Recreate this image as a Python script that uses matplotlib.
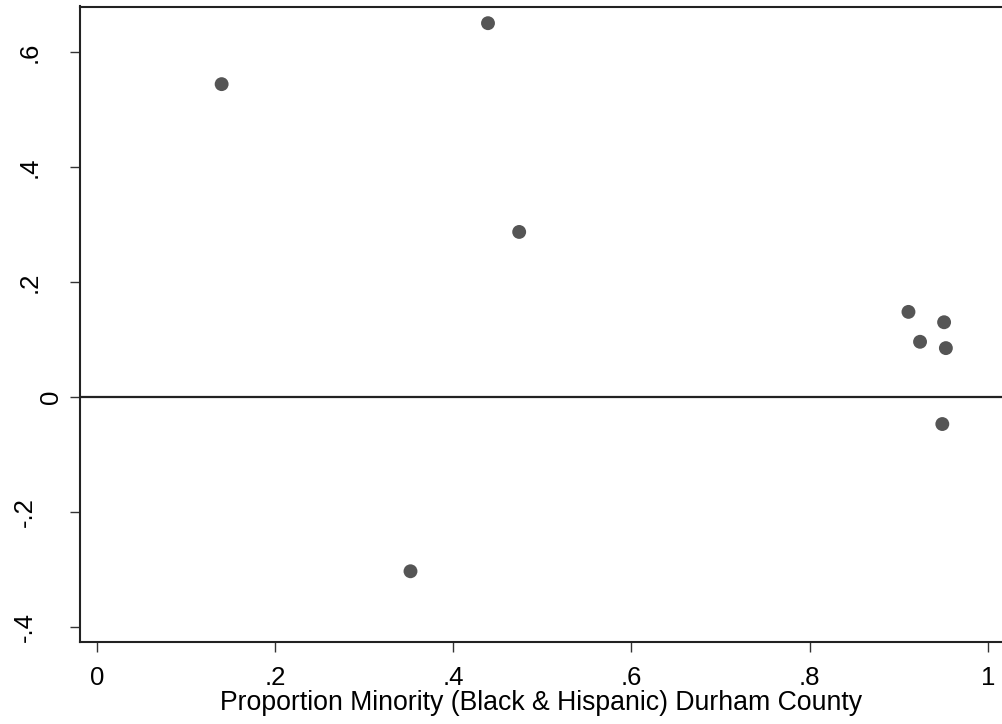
import numpy as np
import matplotlib
matplotlib.use("Agg")
import matplotlib.pyplot as plt
from matplotlib.transforms import ScaledTranslation

plt.rcParams["font.family"] = ["Liberation Sans", "DejaVu Sans"]

# proportion minority vs. estimate
prop_minority = [0.140, 0.439, 0.474, 0.352, 0.911, 0.951, 0.924, 0.953, 0.949]
estimate = [0.544, 0.650, 0.287, -0.303, 0.148, 0.130, 0.096, 0.085, -0.047]

x_ticks = [0, 0.2, 0.4, 0.6, 0.8, 1.0]
x_labels = ["0", ".2", ".4", ".6", ".8", "1"]
y_ticks = [-0.4, -0.2, 0, 0.2, 0.4, 0.6]
y_labels = ["-.4", "-.2", "0", ".2", ".4", ".6"]

FS = 18.5


def plot_data(fname="out.png"):
    fig = plt.figure(figsize=(10.02, 7.24), dpi=100)
    ax = fig.add_axes([80/1002, 1 - 642/724, 1 - 80/1002, (642 - 6.5)/724])
    ax.scatter(prop_minority, estimate, s=100, c="#555555", edgecolors="none", zorder=3)
    ax.axhline(0, color="#222222", lw=1.6, zorder=2)
    ax.set_xlim(-0.019, 1.016)
    ax.set_ylim(-0.426, 0.679)
    ax.set_xticks(x_ticks, x_labels)
    ax.set_yticks(y_ticks)
    ax.tick_params(axis="both", direction="out", length=7.2, width=1, color="#333333",
                   labelsize=FS)
    ax.tick_params(axis="x", pad=10)
    ax.tick_params(axis="y", labelleft=False)
    # rotated y labels, stata-like placement (baseline offset from spine, px)
    for v, lab in zip(y_ticks, y_labels):
        if lab == "0":
            dx = -22
        elif lab.startswith("-"):
            dx = -48
        else:
            dx = -43
        tr = ax.get_yaxis_transform() + ScaledTranslation(dx/100, 0, fig.dpi_scale_trans)
        ax.text(0, v, lab, transform=tr, rotation=90, rotation_mode="anchor",
                ha="center", va="baseline", fontsize=FS)
    ax.spines["right"].set_visible(False)
    for s in ["left", "top", "bottom"]:
        ax.spines[s].set_linewidth(1.5)
        ax.spines[s].set_color("#222222")
    ax.set_xlabel("Proportion Minority (Black & Hispanic) Durham County", fontsize=19.2, labelpad=0.3)
    fig.savefig(fname, dpi=100)
    plt.close(fig)


if __name__ == "__main__":
    plot_data()
